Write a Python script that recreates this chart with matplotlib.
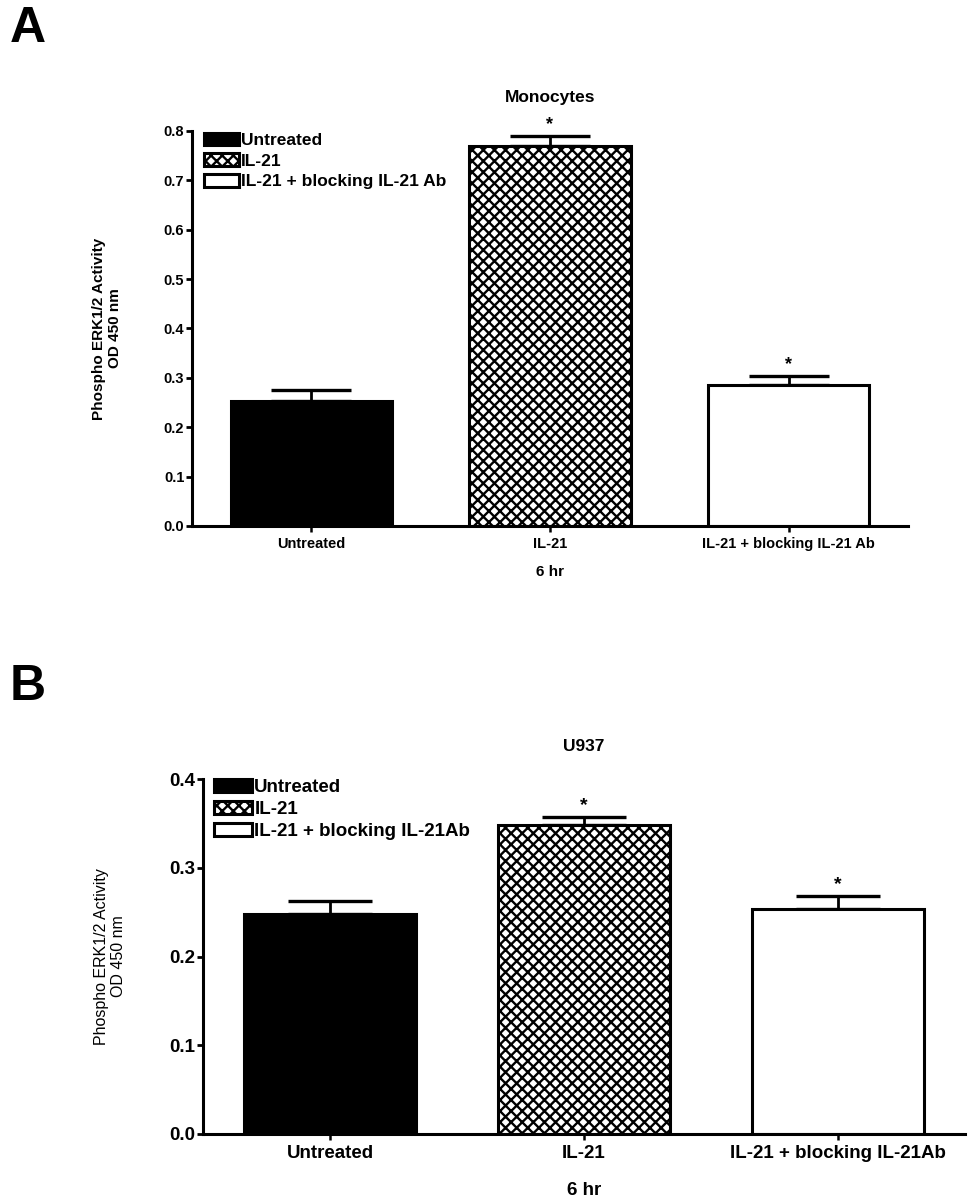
import numpy as np
from matplotlib import pyplot as plt
from matplotlib.ticker import FormatStrFormatter

plt.rcParams["font.family"] = ["Liberation Sans", "DejaVu Sans"]
plt.rcParams["font.weight"] = "bold"
plt.rcParams["hatch.linewidth"] = 1.7

# Data
groups_a = ["Untreated", "IL-21", "IL-21 + blocking IL-21 Ab"]
means_a = [0.253, 0.770, 0.286]
sem_a = [0.022, 0.020, 0.018]
signif_a = [False, True, True]

groups_b = ["Untreated", "IL-21", "IL-21 + blocking IL-21Ab"]
means_b = [0.248, 0.348, 0.2535]
sem_b = [0.0145, 0.009, 0.0145]
signif_b = [False, True, True]

W, H = 975, 1204
fig = plt.figure(figsize=(W / 100, H / 100), dpi=100)


def px_axes(left, right, top, bottom):
    return fig.add_axes([left / W, 1 - bottom / H, (right - left) / W, (bottom - top) / H])


def draw_panel(ax, labels, means, errs, signif, ymax, star_off,
               tick_fs, legend_fs, capsize, star_fs, label_gap, anchor):
    x = np.arange(len(labels))
    styles = [
        dict(color="black", edgecolor="black"),
        dict(color="white", edgecolor="black", hatch="xxx"),
        dict(color="white", edgecolor="black"),
    ]
    for i in range(len(labels)):
        ax.bar(x[i], means[i], width=0.675, linewidth=2.2, label=labels[i],
               zorder=2, **styles[i])
    ax.errorbar(x, means, yerr=[np.zeros(len(errs)), errs], fmt="none",
                ecolor="black", elinewidth=2.0, capsize=capsize, capthick=2.4,
                zorder=1)
    for i in range(len(labels)):
        if signif[i]:
            ax.text(x[i], means[i] + errs[i] + star_off, "*", ha="center",
                    va="bottom", fontsize=star_fs, fontweight="bold")
    ax.set_xlim(-0.5, len(labels) - 0.5)
    ax.set_ylim(0, ymax)
    ax.set_yticks(np.arange(0, ymax + 0.001, 0.1))
    ax.yaxis.set_major_formatter(FormatStrFormatter("%.1f"))
    ax.set_xticks(x)
    ax.set_xticklabels(labels)
    for s in ["top", "right"]:
        ax.spines[s].set_visible(False)
    for s in ["left", "bottom"]:
        ax.spines[s].set_linewidth(2.2)
    ax.tick_params(axis="y", direction="out", length=4.5, width=2, labelsize=tick_fs, pad=1)
    ax.tick_params(axis="x", direction="out", length=4, width=1.8, labelsize=tick_fs, pad=4)
    ax.legend(loc="upper left", frameon=False, fontsize=legend_fs,
              handlelength=2.05, handleheight=0.75, handletextpad=0.1,
              labelspacing=label_gap, borderaxespad=0.0, borderpad=0.1,
              bbox_to_anchor=anchor)


# Panel A
ax_a = px_axes(192, 908, 131, 526)
draw_panel(ax_a, groups_a, means_a, sem_a, signif_a, 0.8, 0.006,
           tick_fs=10.5, legend_fs=12.5, capsize=29, star_fs=13,
           label_gap=0.3, anchor=(0.014, 1.0))
ax_a.set_title("Monocytes", fontsize=12.5, fontweight="bold", pad=21)
ax_a.set_xlabel("6 hr", fontsize=11, fontweight="bold", labelpad=10)
ax_a.set_ylabel("Phospho ERK1/2 Activity\nOD 450 nm", fontsize=11,
                fontweight="bold", labelpad=30)
fig.text(10 / W, 1 - 42 / H, "A", fontsize=36, fontweight="bold")

# Panel B
ax_b = px_axes(203, 965, 779, 1134)
draw_panel(ax_b, groups_b, means_b, sem_b, signif_b, 0.4, 0.004,
           tick_fs=13.5, legend_fs=13.5, capsize=30, star_fs=14,
           label_gap=0.24, anchor=(0.012, 1.006))
ax_b.set_title("U937", fontsize=12.5, fontweight="bold", pad=20)
ax_b.set_xlabel("6 hr", fontsize=13.5, fontweight="bold", labelpad=14)
ax_b.set_ylabel("Phospho ERK1/2 Activity\nOD 450 nm", fontsize=11.5,
                fontweight="normal", labelpad=31)
fig.text(10 / W, 1 - 700 / H, "B", fontsize=36, fontweight="bold")

fig.savefig("out.png", dpi=100)
